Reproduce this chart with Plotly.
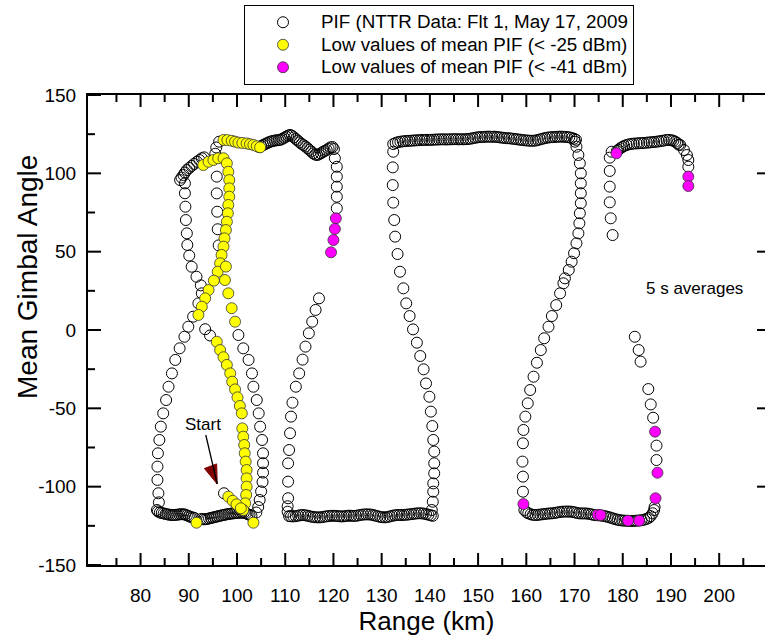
import plotly.graph_objects as go

# ---------------- data (Range km, Mean gimbal angle deg) ----------------
open_left_curve = [(83.4,-114.9),(83.8,-110.0),(83.7,-104.2),(83.5,-95.7),(83.5,-87.2),(83.6,-78.7),
    (83.9,-70.2),(84.2,-61.7),(84.7,-53.2),(85.3,-44.7),(85.8,-36.2),(86.5,-27.7),(87.2,-19.1),
    (88.1,-11.7),(89.1,-4.3),(89.9,2.1),(90.9,8.5),(92.0,17.0),(92.7,23.4)]
open_upper_left = [(89.2,93.6),(89.2,87.3),(89.3,78.7),(89.4,70.2),(89.6,61.7),(89.7,54.3),
    (90.1,47.5),(90.6,40.4),(91.6,34.0),(92.5,28.5)]
open_inner = [(95.5,112.5),(95.7,116.5),(96.3,120.2),(95.8,97.9),(95.8,87.2),(95.9,75.5),
    (96.0,64.3),(96.2,54.0),(93.4,0.5),(94.4,-3.5)]
open_right_curve = [(100.3,-3.2),(101.3,-11.7),(102.4,-19.1),(103.1,-27.7),(103.4,-36.2),
    (104.1,-44.7),(104.5,-53.2),(104.8,-61.7),(105.2,-70.2),(105.4,-78.7),(105.4,-85.0),
    (105.4,-91.0),(105.3,-97.0),(105.0,-103.0),(104.7,-108.5),(104.4,-113.0),(104.0,-116.5)]
open_start = [(97.3,-104.2)]
open_topleft_band = [(88.2,95.7),(88.5,97.3),(88.9,98.9),(89.2,100.5),(89.6,102.1),(90.1,103.4),
    (90.6,104.7),(91.1,106.0),(91.7,107.4),(92.2,108.5),(92.7,109.6),(93.2,110.2)]
open_left_bottom = [(83.6,-115.8),(84.0,-116.5),(84.4,-116.8),(84.8,-117.1),(85.2,-117.4),
    (85.6,-117.7),(86.0,-117.9),(86.4,-118.1),(86.8,-118.1),(87.2,-118.0),(87.6,-117.9),
    (88.0,-117.7),(88.4,-117.6),(88.8,-117.6),(89.2,-117.8),(89.6,-118.3),(90.0,-118.8),
    (90.4,-119.3),(90.8,-119.7),(91.2,-120.0),(92.6,-120.6),(93.0,-120.8),(93.4,-120.8),
    (93.8,-120.6),(94.2,-120.3),(94.6,-120.0),(95.0,-119.7),(95.4,-119.4),(95.8,-119.1),
    (96.2,-118.8),(96.6,-118.5),(97.0,-118.2),(97.4,-118.0),(97.8,-117.7),(98.2,-117.5),
    (98.6,-117.3),(99.0,-117.1),(99.4,-117.0),(99.8,-116.8),(100.2,-116.7),(100.6,-116.6),
    (101.0,-116.6),(101.4,-116.7),(101.8,-117.0),(102.2,-117.5),(102.6,-118.0),(103.0,-118.5)]
open_top_band = [(104.6,116.8),(105.0,117.4),(105.4,118.0),(105.8,118.6),(106.2,119.2),
    (106.6,119.8),(107.0,120.3),(107.4,120.6),(107.8,120.9),(108.2,121.1),(108.6,121.2),
    (109.0,121.4),(109.4,122.0),(109.8,122.7),(110.2,123.4),(110.6,124.1),(111.0,124.5),
    (111.4,124.0),(111.8,123.0),(112.2,121.9),(112.6,120.9),(113.0,119.8),(113.4,118.8),
    (113.8,118.0),(114.2,117.1),(114.6,116.1),(115.0,115.0),(115.4,113.9),(115.8,112.8),
    (116.2,112.0),(116.6,111.7),(117.0,112.1),(117.4,112.8),(117.8,113.6),(118.2,114.3),
    (118.6,114.9),(119.0,115.8),(119.4,116.6),(119.8,116.8),(120.1,115.5)]
open_col_120 = [(120.3,109.6),(120.7,104.2),(120.7,97.9),(120.7,91.5),(120.7,85.1),(120.7,77.7)]
open_box2_left = [(110.5,-116.0),(110.5,-112.5),(110.6,-107.4),(110.6,-96.8),(110.6,-85.1),
    (110.8,-76.6),(111.0,-65.9),(111.2,-55.3),(111.5,-46.4),(112.2,-36.2),(112.9,-27.7),
    (113.6,-18.9),(114.2,-10.6),(114.9,-2.1),(115.6,5.3),(116.3,12.8),(117.0,20.2)]
open_box2_bottom = [(110.8,-118.8),(111.2,-118.9),(111.7,-119.0),(112.2,-118.8),(112.7,-118.5),
    (113.2,-118.2),(113.7,-118.1),(114.2,-118.3),(114.7,-118.6),(115.2,-119.0),(115.7,-119.3),
    (116.2,-119.5),(116.7,-119.6),(117.2,-119.6),(117.7,-119.4),(118.2,-119.1),(118.7,-118.9),
    (119.2,-118.7),(119.7,-118.6),(120.2,-118.6),(120.7,-118.7),(121.2,-118.9),(121.7,-119.0),
    (122.2,-118.9),(122.7,-118.7),(123.2,-118.5),(123.7,-118.6),(124.2,-118.7),(124.7,-118.6),
    (125.2,-118.3),(125.7,-118.0),(126.2,-117.8),(126.7,-117.7),(127.2,-117.7),(127.7,-117.8),
    (128.2,-118.1),(128.7,-118.5),(129.2,-118.9),(129.7,-119.3),(130.2,-119.5),(130.7,-119.6),
    (131.2,-119.4),(131.7,-119.0),(132.2,-118.6),(132.7,-118.3),(133.2,-118.1),(133.7,-118.1),
    (134.2,-118.1),(134.7,-118.0),(135.2,-117.9),(135.7,-117.7),(136.2,-117.5),(136.7,-117.3),
    (137.2,-117.1),(137.7,-117.0),(138.2,-117.0),(138.7,-117.2),(139.2,-117.5),(139.7,-117.9),
    (140.2,-118.3),(140.6,-118.6)]
open_box2_right = [(132.4,113.8),(132.3,103.8),(132.3,92.5),(132.4,81.3),(132.6,70.2),
    (132.8,59.6),(133.3,48.5),(133.8,37.2),(134.5,26.6),(135.1,17.0),(135.8,8.9),(136.5,0.4),
    (137.3,-8.1),(138.0,-16.6),(138.7,-25.1),(139.2,-34.1),(139.9,-42.6),(140.2,-52.1),
    (140.5,-61.3),(140.7,-70.2),(140.9,-77.6),(140.9,-85.1),(140.9,-91.5),(140.7,-97.9),
    (140.7,-103.2),(140.6,-109.6),(140.4,-114.9)]
open_box2_top = [(132.4,118.7),(132.9,119.4),(133.4,119.9),(133.9,120.2),(134.4,120.4),
    (134.9,120.6),(135.4,120.7),(135.9,120.8),(136.4,120.9),(136.9,121.0),(137.4,121.1),
    (137.9,121.2),(138.4,121.3),(138.9,121.3),(139.4,121.4),(139.9,121.3),(140.4,121.4),
    (140.9,121.5),(141.4,121.6),(141.9,121.6),(142.4,121.7),(142.9,121.7),(143.4,121.6),
    (143.9,121.7),(144.4,121.7),(144.9,121.8),(145.4,121.8),(145.9,121.7),(146.4,121.8),
    (146.9,121.7),(147.4,121.8),(147.9,121.9),(148.4,122.1),(148.9,122.4),(149.4,122.7),
    (149.9,123.0),(150.4,123.1),(150.9,123.2),(151.4,123.3),(151.9,123.4),(152.4,123.4),
    (152.9,123.3),(153.4,123.4),(153.9,123.2),(154.4,123.0),(154.9,122.8),(155.4,122.6),
    (155.9,122.4),(156.4,122.4),(156.9,122.2),(157.4,122.0),(157.9,121.8),(158.4,121.6),
    (158.9,121.4),(159.4,121.2),(159.9,121.0),(160.4,120.9),(160.9,120.8),(161.4,120.8),
    (161.9,120.9),(162.4,121.3),(162.9,121.7),(163.4,122.1),(163.9,122.5),(164.4,122.8),
    (164.9,123.0),(165.4,123.1),(165.9,123.2),(166.4,123.3),(166.9,123.4),(167.4,123.4),
    (167.9,123.3),(168.4,123.2),(168.9,123.0),(169.4,122.6),(169.9,122.1),(170.3,121.4)]
open_box3_right = [(170.1,120.2),(170.4,117.0),(170.8,111.7),(171.1,106.4),(171.3,100.0),
    (171.3,93.6),(171.3,87.3),(171.3,80.9),(171.1,74.5),(171.0,68.1),(170.8,61.7),(170.4,55.3),
    (169.9,49.0),(169.4,43.6),(168.8,38.3),(168.0,33.0),(167.7,29.8),(167.0,23.4),(166.2,15.9),
    (165.3,8.9),(164.6,2.1),(163.7,-5.3),(163.0,-12.8),(162.2,-20.9),(161.5,-29.8),(160.8,-38.3),
    (160.3,-46.8),(159.8,-55.3),(159.4,-63.8),(159.3,-72.3),(159.2,-84.0),(159.3,-93.6),
    (159.3,-103.2)]
open_box3_bottom = [(159.6,-114.9),(160.0,-116.2),(160.4,-117.0),(160.9,-117.6),(161.4,-118.0),
    (161.9,-118.1),(162.4,-118.0),(162.9,-117.8),(163.4,-117.6),(163.9,-117.4),(164.4,-117.2),
    (164.9,-117.1),(165.4,-117.0),(165.9,-116.8),(166.4,-116.5),(166.9,-116.2),(167.4,-116.0),
    (167.9,-115.9),(168.4,-115.9),(168.9,-115.9),(169.4,-116.0),(169.9,-116.3),(170.4,-116.7),
    (170.9,-117.0),(171.4,-117.1),(171.9,-117.1),(172.4,-117.1),(172.9,-117.3),(173.4,-117.6),
    (173.9,-118.0),(174.4,-118.2),(174.9,-118.3),(175.4,-118.4),(175.9,-118.6),(176.4,-118.9),
    (176.9,-119.3),(177.4,-119.7),(177.9,-120.2),(178.4,-120.7),(178.9,-121.1),(179.4,-121.4),
    (179.9,-121.6),(180.4,-121.7),(180.9,-121.8),(181.4,-121.9),(181.9,-121.9),(182.4,-121.8),
    (182.9,-121.7),(183.4,-121.6),(183.9,-121.4),(184.4,-121.1),(184.9,-120.6),(185.4,-119.9),
    (185.8,-118.8),(186.2,-117.0),(186.5,-114.9),(186.6,-113.0)]
open_box3_col = [(187.0,-73.8),(187.0,-83.0),(186.3,-56.0),(185.8,-47.5),(185.3,-37.7),
    (183.7,-20.2),(183.3,-12.8),(182.5,-4.3)]
open_right_top = [(177.9,60.6),(177.5,71.3),(177.3,81.5),(177.3,91.5),(177.3,101.5),
    (177.3,110.0),(177.7,113.8),(178.8,114.2),(179.1,115.0),(179.5,116.0),(179.9,116.8),
    (180.3,117.5),(180.8,118.1),(181.3,118.5),(181.8,118.8),(182.3,119.0),(182.9,119.1),
    (183.4,119.2),(183.9,119.3),(184.4,119.4),(185.0,119.6),(185.5,119.7),(186.0,119.9),
    (186.5,120.0),(187.0,120.2),(187.5,120.4),(188.0,120.7),(188.5,120.9),(189.1,121.3),
    (189.6,121.3),(190.1,121.1),(190.5,120.8),(190.9,120.2),(191.3,119.3),(191.6,118.3),
    (191.9,118.1),(192.7,114.9),(193.3,111.7),(193.6,108.5),(193.6,104.2)]

yellow_pts = [(97.2,121.3),(98.0,121.2),(98.9,120.8),(99.6,120.2),(100.3,119.6),(101.1,119.4),
    (102.0,119.1),(102.7,118.6),(103.4,118.1),(104.1,117.3),(104.8,116.6),
    (93.0,105.3),(94.1,107.4),(95.1,108.5),(96.1,109.6),(97.2,109.6),(97.9,106.4),
    (98.2,101.0),(98.4,95.7),(98.4,90.4),(98.4,85.1),(98.2,79.8),(98.1,74.5),(97.9,69.1),
    (97.7,63.8),(97.4,58.5),(97.2,53.2),(96.8,47.9),(96.5,42.6),(96.0,37.2),(95.2,31.5),
    (94.1,25.5),(93.4,20.2),(92.7,14.9),(92.0,9.6),
    (97.7,40.5),(97.5,31.9),(98.2,23.4),(98.9,13.9),(99.6,5.3),
    (95.8,-7.5),(96.5,-12.8),(97.2,-17.4),(97.9,-22.3),(98.6,-27.7),(99.0,-33.0),(99.6,-37.9),
    (100.1,-43.0),(100.6,-48.5),(101.0,-53.2),
    (101.1,-62.8),(101.3,-68.1),(101.5,-73.4),(101.6,-78.7),(101.8,-84.0),(102.0,-89.4),
    (102.0,-94.7),(102.0,-100.0),(101.9,-105.3),(101.7,-110.6),(101.3,-114.9),
    (98.2,-106.4),(99.1,-109.0),(99.9,-111.3),(100.8,-113.8),
    (91.6,-123.0),(103.4,-123.0)]

magenta_pts = [(120.5,71.3),(120.3,64.5),(120.0,57.4),(119.5,49.6),(159.4,-111.1),
    (174.8,-118.0),(175.4,-118.1),(181.1,-121.7),(183.4,-121.7),(186.8,-107.4),(187.2,-91.1),
    (186.7,-64.9),(178.7,112.8),(193.6,97.9),(193.6,91.9)]

x_ticks = [80, 90, 100, 110, 120, 130, 140, 150, 160, 170, 180, 190, 200]
x_minor = [75, 85, 95, 105, 115, 125, 135, 145, 155, 165, 175, 185, 195, 205]
y_ticks = [-150, -100, -50, 0, 50, 100, 150]
y_minor = [-125, -75, -25, 25, 75, 125]

legend_names = ["PIF (NTTR Data: Flt 1, May 17, 2009",
                "Low values of mean PIF (< -25 dBm)",
                "Low values of mean PIF (< -41 dBm)"]
start_point = (95.9, -98.3)   # arrow tip of "Start" label
note_point = (194.8, 26.8)    # "5 s averages" position

open_pts = (open_left_curve + open_upper_left + open_inner + open_right_curve + open_start +
            open_topleft_band + open_left_bottom + open_top_band + open_col_120 +
            open_box2_left + open_box2_bottom + open_box2_right + open_box2_top +
            open_box3_right + open_box3_bottom + open_box3_col + open_right_top)

FONT = "Liberation Sans, Arial, sans-serif"
W, H = 765, 639
ML, MR, MT, MB = 88, 0, 95, 74
PW, PH = W - ML - MR, H - MT - MB
X_RANGE = [69.1, 209.5]
Y_RANGE = [-150, 150]


def leg(name):
    return '<span style="font-size:18.8px">' + name + '</span>'


fig = go.Figure()
fig.add_trace(go.Scatter(
    x=[p[0] for p in open_pts], y=[p[1] for p in open_pts], mode="markers",
    name=leg(legend_names[0]),
    marker=dict(symbol="circle-open", size=11, color="black", line=dict(width=1, color="black"))))
fig.add_trace(go.Scatter(
    x=[p[0] for p in yellow_pts], y=[p[1] for p in yellow_pts], mode="markers",
    name=leg(legend_names[1]),
    marker=dict(symbol="circle", size=11, color="#FFFF00", line=dict(width=0.8, color="#333333"))))
fig.add_trace(go.Scatter(
    x=[p[0] for p in magenta_pts], y=[p[1] for p in magenta_pts], mode="markers",
    name=leg(legend_names[2]),
    marker=dict(symbol="circle", size=11, color="#FF00FF", line=dict(width=0.8, color="#333333"))))

fig.update_layout(
    width=W, height=H,
    margin=dict(l=ML, r=MR, t=MT, b=MB),
    paper_bgcolor="white", plot_bgcolor="white",
    font=dict(family=FONT, color="black", size=19),
    showlegend=True,
    legend=dict(x=(244 - ML) / PW, y=(H - MB - 5) / PH,
                xanchor="left", yanchor="top", bgcolor="white",
                bordercolor="black", borderwidth=1,
                font=dict(family=FONT, size=15), itemwidth=66, tracegroupgap=0),
    xaxis=dict(range=X_RANGE, showline=True, linecolor="black", linewidth=2, mirror=True,
               showgrid=False, zeroline=False, ticks="",
               tickmode="array", tickvals=x_ticks, ticktext=[str(v) for v in x_ticks],
               tickfont=dict(size=19), ticklabelstandoff=12,
               title=dict(text="Range (km)", font=dict(size=26), standoff=1)),
    yaxis=dict(range=Y_RANGE, showline=True, linecolor="black", linewidth=2, mirror=False,
               showgrid=False, zeroline=False, ticks="",
               tickmode="array", tickvals=y_ticks, ticktext=[str(v) for v in y_ticks],
               tickfont=dict(size=19), ticklabelstandoff=6),
)

# inward tick marks, placed on the axes' own scales (length in pixels)
tick_line = dict(color="black", width=2)
for vals, length in ((x_ticks, 12), (x_minor, 7)):
    for v in vals:
        fig.add_shape(type="line", xref="x", x0=v, x1=v, yref="paper", ysizemode="pixel",
                      yanchor=0, y0=0, y1=length, line=tick_line)
        fig.add_shape(type="line", xref="x", x0=v, x1=v, yref="paper", ysizemode="pixel",
                      yanchor=1, y0=0, y1=-length, line=tick_line)
for vals, length in ((y_ticks, 13), (y_minor, 7)):
    for v in vals:
        fig.add_shape(type="line", yref="y", y0=v, y1=v, xref="paper", xsizemode="pixel",
                      xanchor=0, x0=0, x1=length, line=tick_line)
for v in y_ticks[1:-1]:   # right-hand frame lies just past the image edge; only tick stubs show
    fig.add_shape(type="line", yref="y", y0=v, y1=v, xref="paper", xsizemode="pixel",
                  xanchor=1, x0=0, x1=-8, line=tick_line)

# y-axis title (sits above the plot centre in the reference)
fig.add_annotation(x=(27 - ML) / PW, y=(H - MB - 277) / PH, xref="paper", yref="paper",
                   text="Mean Gimbal Angle", textangle=-90, showarrow=False,
                   xanchor="center", yanchor="middle",
                   font=dict(family=FONT, size=28, color="black"))

# "Start" label with black arrow line
fig.add_annotation(x=start_point[0], y=start_point[1], xref="x", yref="y",
                   text="Start", showarrow=True, ax=-14, ay=-60,
                   arrowhead=0, arrowwidth=1.3, arrowcolor="black",
                   font=dict(family=FONT, size=17, color="black"))
# dark red arrow head
fig.add_shape(type="path", xref="x", yref="y", xsizemode="pixel", ysizemode="pixel",
              xanchor=start_point[0], yanchor=start_point[1],
              path="M 0 0 L -0.6 20.1 L -12.8 15.5 Z",
              fillcolor="#7F0000", line=dict(color="#7F0000", width=1))

fig.add_annotation(x=note_point[0], y=note_point[1], xref="x", yref="y",
                   text="5 s averages", showarrow=False,
                   font=dict(family=FONT, size=17, color="black"))

fig.write_html("out.html")
